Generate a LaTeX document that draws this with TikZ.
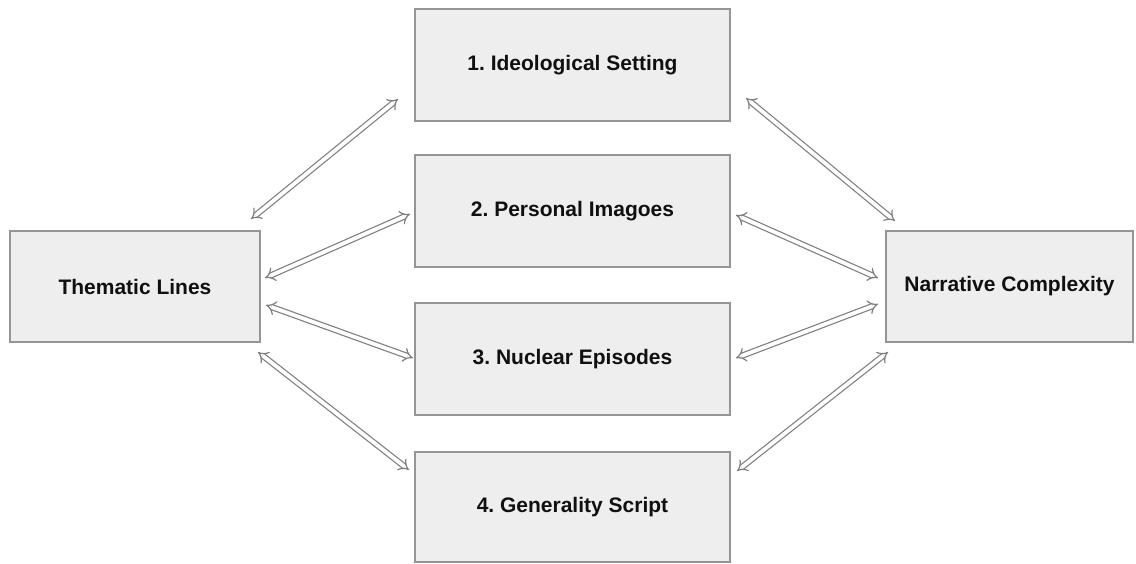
\documentclass[tikz,border=0pt]{standalone}
\usepackage{fontspec}
\setmainfont{Liberation Sans}
\usetikzlibrary{arrows.meta}
\definecolor{boxfill}{HTML}{EEEEEE}
\definecolor{boxline}{HTML}{959595}
\definecolor{arrline}{HTML}{7E7E7E}
\definecolor{txt}{HTML}{101010}
\tikzset{
  box/.style={draw=boxline, line width=0.75pt, fill=boxfill, rectangle, inner sep=0pt,
    font=\bfseries\fontsize{10.5}{12}\selectfont, text=txt},
  dbl/.style={draw=arrline, line width=0.6pt, double=white, double distance=1.9pt,
    {Implies[length=4pt,width=8pt]}-{Implies[length=4pt,width=8pt]}},
}
\begin{document}
\frenchspacing
\begin{tikzpicture}[x=0.5pt,y=-0.5pt]
\useasboundingbox (0,0) rectangle (1136,563);
\node[box, minimum width=125pt, minimum height=55.5pt] (tl) at (135,286.5) {Thematic Lines};
\node[box, minimum width=157.5pt, minimum height=56pt] (s1) at (572.5,65) {1. Ideological Setting};
\node[box, minimum width=157.5pt, minimum height=56pt] (s2) at (572.5,211) {2. Personal Imagoes};
\node[box, minimum width=157.5pt, minimum height=56pt] (s3) at (572.5,359) {3. Nuclear Episodes};
\node[box, minimum width=157.5pt, minimum height=55pt] (s4) at (572.5,507) {4. Generality Script};
\node[box, minimum width=123.5pt, minimum height=55.5pt] (nc) at (1009.5,286.5) {Narrative Complexity};
% arrow end points
\coordinate (a1s) at (251,219); \coordinate (a1e) at (398,99);
\coordinate (a2s) at (265,278); \coordinate (a2e) at (410,214);
\coordinate (a3s) at (266,305); \coordinate (a3e) at (413,358);
\coordinate (a4s) at (258,352); \coordinate (a4e) at (409,470);
\coordinate (b1s) at (746,98);  \coordinate (b1e) at (895,221);
\coordinate (b2s) at (736,215); \coordinate (b2e) at (878,278);
\coordinate (b3s) at (736,358); \coordinate (b3e) at (878,304);
\coordinate (b4s) at (737,471); \coordinate (b4e) at (888,352);
\draw[dbl] (a1s) -- (a1e);
\draw[dbl] (a2s) -- (a2e);
\draw[dbl] (a3s) -- (a3e);
\draw[dbl] (a4s) -- (a4e);
\draw[dbl] (b1s) -- (b1e);
\draw[dbl] (b2s) -- (b2e);
\draw[dbl] (b3s) -- (b3e);
\draw[dbl] (b4s) -- (b4e);
\end{tikzpicture}
\end{document}
